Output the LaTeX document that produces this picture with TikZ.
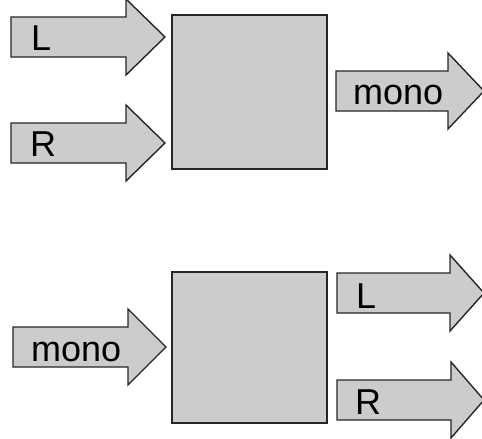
\documentclass[tikz,border=0pt]{standalone}
\usepackage{fontspec}
\setmainfont{Liberation Sans}
\begin{document}
\begin{tikzpicture}[x=1pt,y=-1pt,
  shapestyle/.style={draw=black!85,fill=black!20,line width=1.4pt,line join=miter},
  lbl/.style={anchor=base west,inner sep=0pt,font=\fontsize{36}{36}\selectfont}]
\useasboundingbox (0,0) rectangle (482,439);
% fat arrows: x0, base x, tip x, mid y
\newcommand\fatarrow[5]{%
  \draw[shapestyle] (#1,#4-20) -- (#2,#4-20) -- (#2,#4-38) -- (#3,#4) -- (#2,#4+38) -- (#2,#4+20) -- (#1,#4+20) -- cycle;}
% top
\fatarrow{11}{126}{165}{37}{}
\fatarrow{11}{126}{165}{143}{}
\draw[shapestyle] (172,15) rectangle (327,169);
\fatarrow{336}{448}{484}{91}{}
\node[lbl] (tl) at (31,50) {L};
\node[lbl] (tr) at (30,156) {R};
\node[lbl] (tm) at (353,104) {mono};
% bottom
\fatarrow{13}{128}{166}{347}{}
\draw[shapestyle] (172,272) rectangle (327,423);
\fatarrow{337}{450}{484}{293}{}
\fatarrow{337}{451}{484}{400}{}
\node[lbl] (bm) at (31,361) {mono};
\node[lbl] (bl) at (356,308) {L};
\node[lbl] (br) at (355,414) {R};
\end{tikzpicture}
\end{document}
